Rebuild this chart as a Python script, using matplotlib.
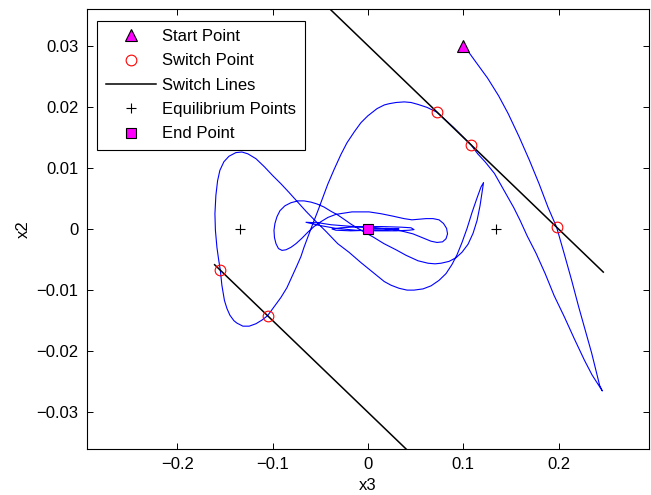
import numpy as np
import matplotlib
matplotlib.use("Agg")
import matplotlib.pyplot as plt

plt.rcParams['font.family'] = ['Liberation Sans', 'DejaVu Sans']
plt.rcParams['font.size'] = 12

# points (x3, x2)
start_pt = (0.100, 0.0300)
end_pt = (0.0, 0.0)
switch_x3 = [0.0725, 0.108, 0.198, -0.155, -0.1055]
switch_x2 = [0.0191, 0.0138, 0.0003, -0.00675, -0.0142]
equil_x3 = [-0.134, 0.134]
equil_x2 = [0.0, 0.0]

# switch lines x2 = -0.15*x3 +/- 0.03
line_up_x3 = [-0.10, 0.247]
line_up_x2 = [0.045, -0.00705]
line_lo_x3 = [-0.161, 0.10]
line_lo_x2 = [-0.00585, -0.045]

# trajectory, start -> end
path_pts = [
    (0.1000, 0.0300), (0.1022, 0.0297), (0.1045, 0.0292), (0.1124, 0.0275), (0.1255, 0.0247),
    (0.1371, 0.0218), (0.1471, 0.0189), (0.1586, 0.0151), (0.1696, 0.0112),
    (0.1796, 0.0074), (0.1891, 0.0035), (0.1980, 0.0003), (0.2059, -0.0040),
    (0.2138, -0.0084), (0.2211, -0.0127), (0.2290, -0.0171), (0.2348, -0.0203),
    (0.2400, -0.0236), (0.2432, -0.0256), (0.2460, -0.0265),
    (0.2353, -0.0239), (0.2273, -0.0215), (0.2164, -0.0179), (0.2062, -0.0144),
    (0.1954, -0.0109), (0.1860, -0.0073), (0.1765, -0.0040), (0.1670, -0.0011),
    (0.1597, 0.0014), (0.1530, 0.0035), (0.1429, 0.0063), (0.1327, 0.0091),
    (0.1229, 0.0110), (0.1152, 0.0123), (0.1080, 0.0138), (0.0900, 0.0166),
    (0.0725, 0.0191), (0.0620, 0.0199), (0.0522, 0.0204), (0.0452, 0.0207),
    (0.0381, 0.0208), (0.0294, 0.0207), (0.0221, 0.0205), (0.0171, 0.0203),
    (0.0095, 0.0197), (-0.0003, 0.0185), (-0.0074, 0.0174), (-0.0144, 0.0159),
    (-0.0221, 0.0141), (-0.0284, 0.0122), (-0.0357, 0.0097), (-0.0423, 0.0073),
    (-0.0483, 0.0048), (-0.0528, 0.0029), (-0.0583, 0.0007), (-0.0633, -0.0014),
    (-0.0672, -0.0030), (-0.0704, -0.0045), (-0.0746, -0.0060), (-0.0798, -0.0078),
    (-0.0851, -0.0096), (-0.0914, -0.0112), (-0.0984, -0.0127), (-0.1055, -0.0142),
    (-0.1113, -0.0149), (-0.1176, -0.0155), (-0.1247, -0.0159), (-0.1313, -0.0159),
    (-0.1376, -0.0154), (-0.1408, -0.0150), (-0.1450, -0.0141), (-0.1481, -0.0130),
    (-0.1507, -0.0117), (-0.1534, -0.0092), (-0.1550, -0.0068), (-0.1570, -0.0048),
    (-0.1586, -0.0030), (-0.1602, -0.0002), (-0.1607, 0.0025), (-0.1597, 0.0055),
    (-0.1579, 0.0079), (-0.1555, 0.0096), (-0.1513, 0.0110), (-0.1460, 0.0119),
    (-0.1387, 0.0125), (-0.1324, 0.0126), (-0.1261, 0.0123), (-0.1176, 0.0115),
    (-0.1089, 0.0102), (-0.0998, 0.0087), (-0.0914, 0.0074), (-0.0830, 0.0060),
    (-0.0738, 0.0044), (-0.0651, 0.0029), (-0.0564, 0.0015), (-0.0441, -0.0004),
    (-0.0318, -0.0024), (-0.0200, -0.0038), (-0.0074, -0.0055), (0.0053, -0.0071),
    (0.0171, -0.0086), (0.0242, -0.0092), (0.0326, -0.0097), (0.0410, -0.0100),
    (0.0483, -0.0100), (0.0578, -0.0098), (0.0662, -0.0093), (0.0746, -0.0084),
    (0.0819, -0.0073), (0.0882, -0.0058), (0.0935, -0.0042), (0.0987, -0.0022),
    (0.1040, 0.0001), (0.1092, 0.0027), (0.1145, 0.0051), (0.1187, 0.0069),
    (0.1213, 0.0076),
    (0.1197, 0.0060), (0.1176, 0.0038), (0.1145, 0.0014), (0.1103, -0.0007),
    (0.1050, -0.0025), (0.0987, -0.0038), (0.0924, -0.0047), (0.0851, -0.0053),
    (0.0767, -0.0056), (0.0704, -0.0057), (0.0630, -0.0056), (0.0525, -0.0052),
    (0.0399, -0.0043), (0.0294, -0.0034), (0.0168, -0.0024), (0.0053, -0.0013),
    (-0.0074, -0.0002), (-0.0179, 0.0008), (-0.0252, 0.0016), (-0.0318, 0.0023),
    (-0.0389, 0.0029), (-0.0462, 0.0036), (-0.0536, 0.0041), (-0.0599, 0.0044),
    (-0.0672, 0.0046), (-0.0735, 0.0046), (-0.0809, 0.0043), (-0.0872, 0.0038),
    (-0.0924, 0.0030), (-0.0956, 0.0020), (-0.0977, 0.0009), (-0.0987, -0.0002),
    (-0.0982, -0.0014), (-0.0966, -0.0024), (-0.0940, -0.0032), (-0.0903, -0.0035),
    (-0.0861, -0.0034), (-0.0809, -0.0030), (-0.0756, -0.0024), (-0.0693, -0.0015),
    (-0.0630, -0.0005), (-0.0567, 0.0004), (-0.0494, 0.0012), (-0.0420, 0.0019),
    (-0.0336, 0.0024), (-0.0252, 0.0026), (-0.0168, 0.0028), (-0.0084, 0.0028),
    (0.0011, 0.0028), (0.0137, 0.0025), (0.0263, 0.0021), (0.0378, 0.0017),
    (0.0462, 0.0015), (0.0536, 0.0016), (0.0609, 0.0017), (0.0683, 0.0017),
    (0.0746, 0.0015), (0.0793, 0.0009), (0.0825, 0.0001), (0.0835, -0.0008),
    (0.0819, -0.0016), (0.0783, -0.0021), (0.0725, -0.0022), (0.0662, -0.0020),
    (0.0567, -0.0014), (0.0473, -0.0008), (0.0347, -0.0003), (0.0221, 0.0000),
    (0.0084, 0.0002), (-0.0074, 0.0003), (-0.0231, 0.0005), (-0.0389, 0.0007),
    (-0.0515, 0.0010), (-0.0651, 0.0011),
    (-0.0515, 0.0006), (-0.0336, 0.0001), (-0.0126, -0.0002), (0.0084, -0.0003),
    (0.0294, -0.0003), (0.0431, -0.0002), (0.0483, -0.0001), (0.0452, 0.0002),
    (0.0347, 0.0003), (0.0137, 0.0004), (-0.0074, 0.0004), (-0.0284, 0.0002),
    (-0.0378, 0.0000), (-0.0336, -0.0002), (-0.0179, -0.0003), (0.0032, -0.0002),
    (0.0242, -0.0001), (0.0326, 0.0000), (0.0189, 0.0001), (0.0000, 0.0000),
]

xticks = [-0.2, -0.1, 0, 0.1, 0.2]
xtick_labels = ['\u22120.2', '\u22120.1', '0', '0.1', '0.2']
yticks = [-0.03, -0.02, -0.01, 0, 0.01, 0.02, 0.03]
ytick_labels = ['\u22120.03', '\u22120.02', '\u22120.01', '0', '0.01', '0.02', '0.03']

path = np.array(path_pts)

fig = plt.figure(figsize=(6.51, 4.95), dpi=100)
ax = fig.add_axes([87/651, 1 - 449/495, 562/651, 440/495])

ax.plot(path[:, 0], path[:, 1], color='blue', lw=0.8, zorder=2)
h_start, = ax.plot(start_pt[0], start_pt[1], '^', ms=8.4, mfc='magenta', mec='black',
                   mew=0.8, ls='none', zorder=5)
h_switch, = ax.plot(switch_x3, switch_x2, 'o', ms=7.7, mfc='none', mec='red',
                    mew=0.8, ls='none', zorder=5)
h_line, = ax.plot(line_up_x3, line_up_x2, color='black', lw=1.1, zorder=3)
ax.plot(line_lo_x3, line_lo_x2, color='black', lw=1.1, zorder=3)
h_eq, = ax.plot(equil_x3, equil_x2, '+', ms=7.2, color='black', mew=0.8, ls='none', zorder=5)
h_end, = ax.plot(end_pt[0], end_pt[1], 's', ms=6.7, mfc='magenta', mec='black',
                 mew=0.8, ls='none', zorder=5)

ax.set_xlim(-0.295, 0.295)
ax.set_ylim(-0.036, 0.036)
ax.set_xticks(xticks)
ax.set_xticklabels(xtick_labels)
ax.set_yticks(yticks)
ax.set_yticklabels(ytick_labels)
ax.tick_params(direction='in', length=4, width=0.7, top=True, right=True, pad=6)
for s in ax.spines.values():
    s.set_linewidth(0.8)

ax.set_xlabel('x3', labelpad=4)
ax.set_ylabel('x2', labelpad=4)

leg = ax.legend([h_start, h_switch, h_line, h_eq, h_end],
                ['Start Point', 'Switch Point', 'Switch Lines', 'Equilibrium Points', 'End Point'],
                loc='upper left', bbox_to_anchor=(10.3/562, 1 - 11.7/440), borderaxespad=0,
                fancybox=False, edgecolor='black', framealpha=1, handlelength=3.05,
                handletextpad=0.35, labelspacing=0.56, borderpad=0.5)
leg.get_frame().set_linewidth(0.8)

fig.savefig('out.png', dpi=100)
